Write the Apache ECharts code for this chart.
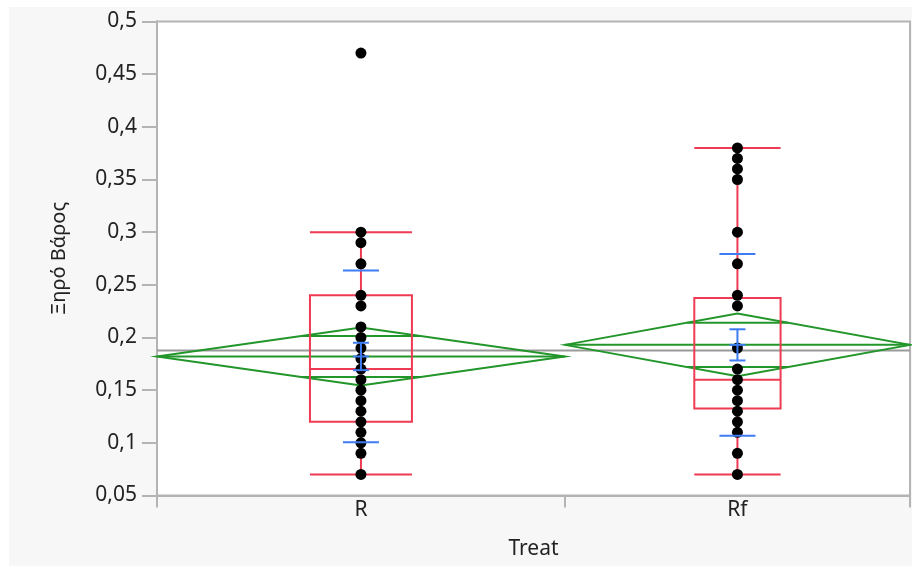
<!DOCTYPE html>
<html><head><meta charset="utf-8">
<script src="https://cdn.jsdelivr.net/npm/echarts@6/dist/echarts.min.js"></script>
<style>html,body{margin:0;padding:0;background:#fff;overflow:hidden;}#c{position:absolute;left:9px;top:7px;width:903px;height:559px;background:#f7f7f7;}</style>
</head><body><div id="c"></div>
<script>
// ---- data ----
const categories = ['R', 'Rf'];
const groupSizes = [39, 33];
const pointsR = [0.47, 0.30, 0.29, 0.27, 0.24, 0.23, 0.21, 0.20, 0.19, 0.18, 0.17, 0.16, 0.15, 0.14, 0.13, 0.12, 0.11, 0.10, 0.09, 0.07];
const pointsRf = [0.38, 0.37, 0.36, 0.35, 0.30, 0.27, 0.24, 0.23, 0.19, 0.17, 0.16, 0.15, 0.14, 0.13, 0.12, 0.11, 0.09, 0.07];
const boxMin = [0.07, 0.07];
const boxQ1 = [0.12, 0.1325];
const boxMedian = [0.17, 0.16];
const boxQ3 = [0.24, 0.2375];
const boxMax = [0.30, 0.38];
const groupMeans = [0.182, 0.193];
const diamondHalfHeight = [0.0276, 0.0298];
const stdDevs = [0.0815, 0.0862];
const stdErrs = [0.013, 0.0148];
const grandMean = [0.1876];
const yTickMin = 0.05, yTickMax = 0.5, yTickStep = 0.05;

// ---- derived layout in data units (width proportional to group size) ----
const total = groupSizes.reduce((a, b) => a + b, 0);
const starts = [], centers = [];
let acc = 0;
groupSizes.forEach(n => { starts.push(acc); centers.push(acc + n / 2); acc += n; });
const boundaries = [0].concat(groupSizes.map((n, i) => starts[i] + n));

const RED = '#ee3a52', GREEN = '#22962a', BLUE = '#3d7cf2', GREY = '#9a9a9a';
const FONT = 'Noto Sans';

const chart = echarts.init(document.getElementById('c'), null, {renderer: 'canvas'});

function seg(a, b, color, w) {
  return {type: 'line', shape: {x1: a[0], y1: a[1], x2: b[0], y2: b[1]}, style: {stroke: color, lineWidth: w || 2}};
}

const option = {
  animation: false,
  grid: {left: 148, top: 14.5, width: 753, height: 474, show: true, backgroundColor: '#fff', borderColor: '#b4b4b4', borderWidth: 2},
  xAxis: {
    type: 'value', min: 0, max: total,
    name: 'Treat', nameLocation: 'middle', nameGap: 43,
    nameTextStyle: {fontFamily: FONT, fontSize: 21, color: '#222'},
    axisLine: {show: true, lineStyle: {color: '#b4b4b4', width: 2}},
    axisTick: {show: true, length: 12, customValues: boundaries, lineStyle: {color: '#b4b4b4', width: 2}},
    axisLabel: {show: true, customValues: centers, margin: 4, fontFamily: FONT, fontSize: 21, color: '#222',
      formatter: v => { const i = centers.findIndex(c => Math.abs(c - v) < 1e-6); return i >= 0 ? categories[i] : ''; }},
    splitLine: {show: false}
  },
  yAxis: {
    type: 'value', min: yTickMin, max: yTickMax, interval: yTickStep,
    name: 'Ξηρό Βάρος', nameLocation: 'middle', nameGap: 88, nameRotate: 90,
    nameTextStyle: {fontFamily: FONT, fontSize: 20, color: '#222'},
    axisLine: {show: true, lineStyle: {color: '#b4b4b4', width: 2}},
    axisTick: {show: true, length: 15, lineStyle: {color: '#b4b4b4', width: 2}},
    axisLabel: {margin: 20, fontFamily: FONT, fontSize: 21, color: '#222',
      formatter: v => String(+v.toFixed(2)).replace('.', ',')},
    splitLine: {show: false}
  },
  series: [
    { // grand mean
      type: 'line', data: [[0, grandMean[0]], [total, grandMean[0]]], symbol: 'none',
      lineStyle: {color: GREY, width: 2}, z: 1, silent: true
    },
    { // mean diamonds
      type: 'custom', z: 2, silent: true, clip: false,
      data: categories.map((c, i) => [i]),
      renderItem: (params, api) => {
        const i = api.value(0);
        const x0 = starts[i], x1 = starts[i] + groupSizes[i], xc = centers[i];
        const m = groupMeans[i], h = diamondHalfHeight[i];
        const P = (x, y) => api.coord([x, y]);
        const pts = [P(x0, m), P(xc, m + h), P(x1, m), P(xc, m - h)];
        const ov = h / Math.SQRT2;
        const f = (1 - 1 / Math.SQRT2) * groupSizes[i] / 2;
        return {type: 'group', children: [
          {type: 'polygon', shape: {points: pts}, style: {fill: 'none', stroke: GREEN, lineWidth: 2}},
          seg(P(x0, m), P(x1, m), GREEN),
          seg(P(xc - f, m + ov), P(xc + f, m + ov), GREEN),
          seg(P(xc - f, m - ov), P(xc + f, m - ov), GREEN)
        ]};
      }
    },
    { // box plots
      type: 'custom', z: 3, silent: true, clip: false,
      data: categories.map((c, i) => [i]),
      renderItem: (params, api) => {
        const i = api.value(0);
        const xc = centers[i], hw = groupSizes[i] / 8;
        const P = (x, y) => api.coord([x, y]);
        const tl = P(xc - hw, boxQ3[i]), br = P(xc + hw, boxQ1[i]);
        return {type: 'group', children: [
          {type: 'rect', shape: {x: tl[0], y: tl[1], width: br[0] - tl[0], height: br[1] - tl[1]}, style: {fill: 'none', stroke: RED, lineWidth: 2}},
          seg(P(xc - hw, boxMedian[i]), P(xc + hw, boxMedian[i]), RED),
          seg(P(xc, boxQ3[i]), P(xc, boxMax[i]), RED),
          seg(P(xc, boxQ1[i]), P(xc, boxMin[i]), RED),
          seg(P(xc - hw, boxMax[i]), P(xc + hw, boxMax[i]), RED),
          seg(P(xc - hw, boxMin[i]), P(xc + hw, boxMin[i]), RED)
        ]};
      }
    },
    { // points
      type: 'scatter', z: 4, silent: true, symbolSize: 11,
      itemStyle: {color: '#000', opacity: 1},
      data: pointsR.map(v => [centers[0], v]).concat(pointsRf.map(v => [centers[1], v]))
    },
    { // std dev lines and mean error bars
      type: 'custom', z: 5, silent: true, clip: false,
      data: categories.map((c, i) => [i]),
      renderItem: (params, api) => {
        const i = api.value(0);
        const xc = centers[i], m = groupMeans[i];
        const P = (y) => api.coord([xc, y]);
        const sdU = P(m + stdDevs[i]), sdL = P(m - stdDevs[i]);
        const seU = P(m + stdErrs[i]), seL = P(m - stdErrs[i]), mm = P(m);
        const cx = mm[0];
        return {type: 'group', children: [
          seg([cx - 18, sdU[1]], [cx + 18, sdU[1]], BLUE),
          seg([cx - 18, sdL[1]], [cx + 18, sdL[1]], BLUE),
          seg([cx, seU[1]], [cx, seL[1]], BLUE),
          seg([cx - 8, seU[1]], [cx + 8, seU[1]], BLUE),
          seg([cx - 8, seL[1]], [cx + 8, seL[1]], BLUE),
          seg([cx - 8, mm[1]], [cx + 8, mm[1]], BLUE)
        ]};
      }
    }
  ]
};
chart.setOption(option);
</script></body></html>
